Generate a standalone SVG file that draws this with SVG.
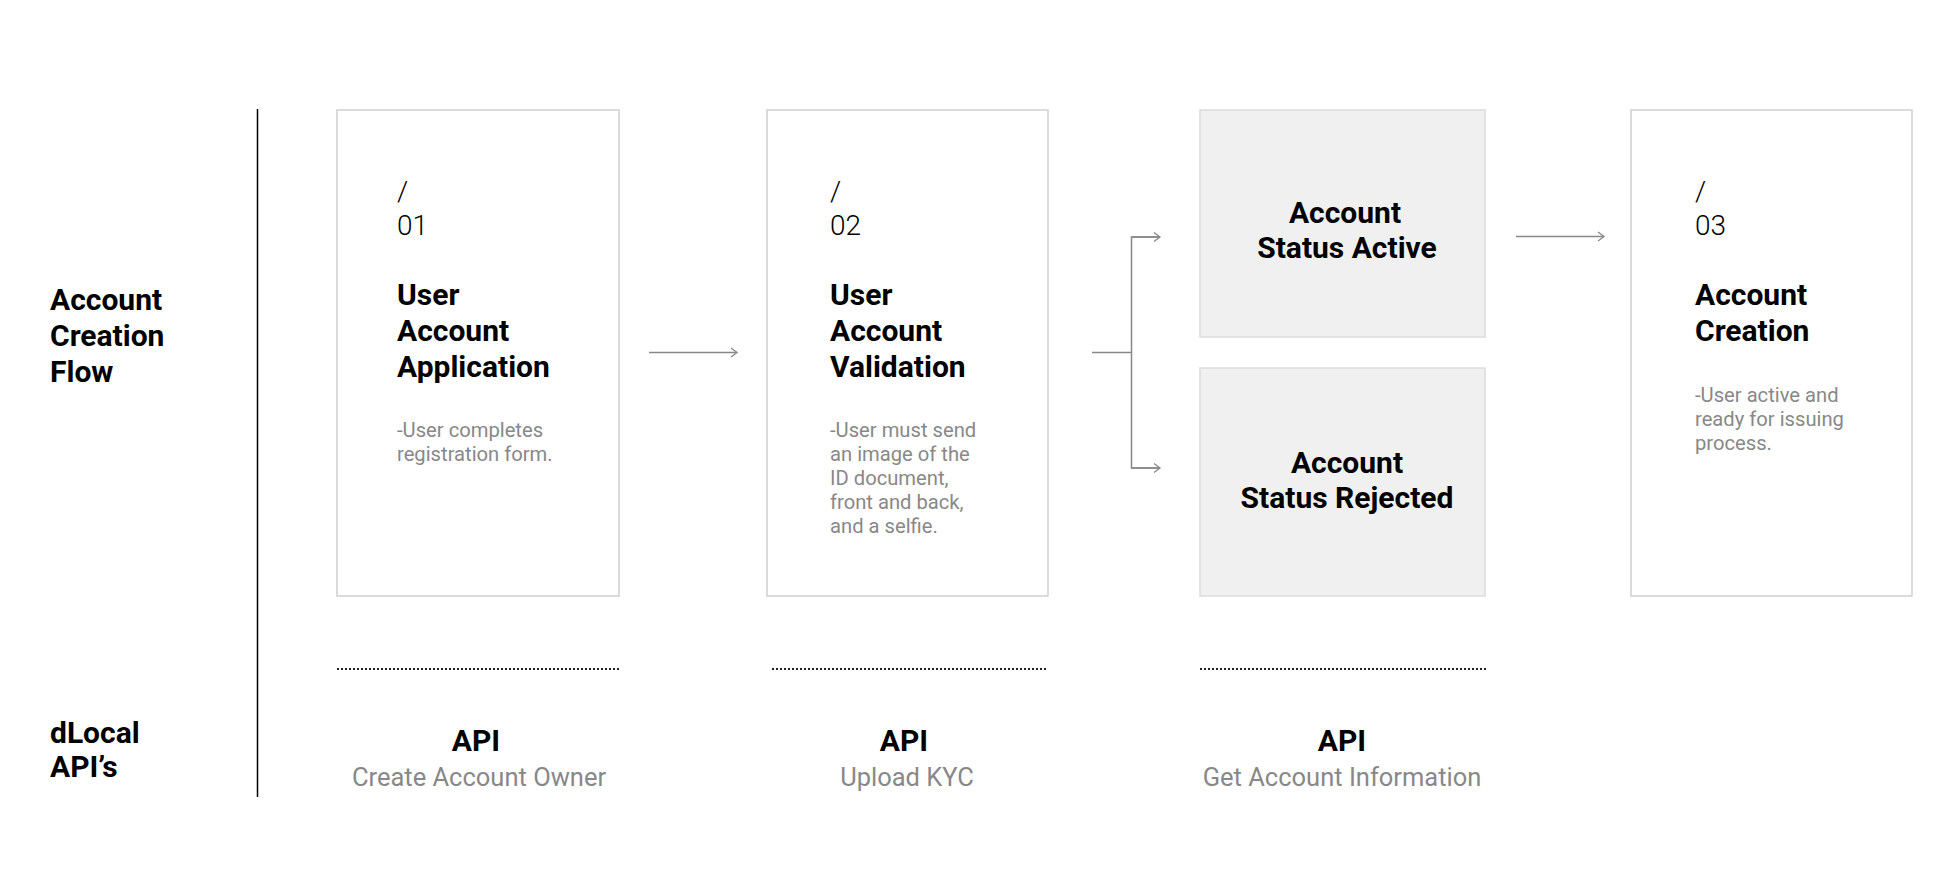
<svg xmlns="http://www.w3.org/2000/svg" width="1958" height="882" viewBox="0 0 1958 882">
<defs>
<marker id="arr" markerUnits="userSpaceOnUse" markerWidth="12" markerHeight="12" refX="9" refY="6" orient="auto">
<path d="M3,1.5 L9,6 L3,10.5" fill="none" stroke="#888" stroke-width="1.3"/>
</marker>
<style>
.card{fill:#fff;stroke:#cfcfcf;stroke-width:1.5}
.status{fill:#f0f0f0;stroke:#dcdcdc;stroke-width:1.5}
.num{font-family:Roboto,"Liberation Sans",sans-serif;font-weight:300;font-size:28px;fill:#000}
.title{font-family:Roboto,"Liberation Sans",sans-serif;font-weight:700;font-size:30px;fill:#000}
.desc{font-family:Roboto,"Liberation Sans",sans-serif;font-weight:400;font-size:20.2px;fill:#888}
.sub{font-family:Roboto,"Liberation Sans",sans-serif;font-weight:400;font-size:25.5px;fill:#888}
.conn{fill:none;stroke:#888;stroke-width:1.5}
.dots{stroke:#222;stroke-width:2;stroke-dasharray:2 2}
</style>
</defs>
<rect width="1958" height="882" fill="#fff"/>

<g id="row-labels">
<text class="title" x="50" y="310">Account</text>
<text class="title" x="50" y="346">Creation</text>
<text class="title" x="50" y="382">Flow</text>
<text class="title" x="50" y="743">dLocal</text>
<text class="title" x="50" y="777">API’s</text>
<line x1="257.5" y1="109" x2="257.5" y2="797" stroke="#000" stroke-width="1.5"/>
</g>

<g id="step1">
<rect class="card" x="337" y="110" width="282" height="486"/>
<text class="num" x="397" y="201">/</text>
<text class="num" x="397" y="235">01</text>
<text class="title" x="397" y="305">User</text>
<text class="title" x="397" y="341">Account</text>
<text class="title" x="397" y="377">Application</text>
<text class="desc" x="397" y="437">-User completes</text>
<text class="desc" x="397" y="461">registration form.</text>
</g>

<g id="step2">
<rect class="card" x="767" y="110" width="281" height="486"/>
<text class="num" x="830" y="201">/</text>
<text class="num" x="830" y="235">02</text>
<text class="title" x="830" y="305">User</text>
<text class="title" x="830" y="341">Account</text>
<text class="title" x="830" y="377">Validation</text>
<text class="desc" x="830" y="437">-User must send</text>
<text class="desc" x="830" y="461">an image of the</text>
<text class="desc" x="830" y="485">ID document,</text>
<text class="desc" x="830" y="509">front and back,</text>
<text class="desc" x="830" y="533">and a selfie.</text>
</g>

<g id="status-active">
<rect class="status" x="1200" y="110" width="285" height="227"/>
<text class="title" x="1345" y="223" text-anchor="middle">Account</text>
<text class="title" x="1347" y="258" text-anchor="middle">Status Active</text>
</g>

<g id="status-rejected">
<rect class="status" x="1200" y="368" width="285" height="228"/>
<text class="title" x="1347" y="473" text-anchor="middle">Account</text>
<text class="title" x="1347" y="508" text-anchor="middle">Status Rejected</text>
</g>

<g id="step3">
<rect class="card" x="1631" y="110" width="281" height="486"/>
<text class="num" x="1695" y="201">/</text>
<text class="num" x="1695" y="235">03</text>
<text class="title" x="1695" y="305">Account</text>
<text class="title" x="1695" y="341">Creation</text>
<text class="desc" x="1695" y="402">-User active and</text>
<text class="desc" x="1695" y="426">ready for issuing</text>
<text class="desc" x="1695" y="450">process.</text>
</g>

<g id="connectors">
<line class="conn" x1="649" y1="352.5" x2="737" y2="352.5" marker-end="url(#arr)"/>
<polyline class="conn" points="1092,352.5 1131.5,352.5"/>
<polyline class="conn" points="1160,237 1131.5,237 1131.5,468 1160,468"/>
<line class="conn" x1="1131.5" y1="237" x2="1160" y2="237" marker-end="url(#arr)"/>
<line class="conn" x1="1131.5" y1="468" x2="1160" y2="468" marker-end="url(#arr)"/>
<line class="conn" x1="1516" y1="236.5" x2="1604" y2="236.5" marker-end="url(#arr)"/>
</g>

<g id="api1">
<line class="dots" x1="337" y1="669" x2="620" y2="669"/>
<text class="title" x="476" y="751" text-anchor="middle">API</text>
<text class="sub" x="479" y="786" text-anchor="middle">Create Account Owner</text>
</g>
<g id="api2">
<line class="dots" x1="772" y1="669" x2="1048" y2="669"/>
<text class="title" x="904" y="751" text-anchor="middle">API</text>
<text class="sub" x="907" y="786" text-anchor="middle">Upload KYC</text>
</g>
<g id="api3">
<line class="dots" x1="1200" y1="669" x2="1486" y2="669"/>
<text class="title" x="1342" y="751" text-anchor="middle">API</text>
<text class="sub" x="1342" y="786" text-anchor="middle">Get Account Information</text>
</g>
</svg>
